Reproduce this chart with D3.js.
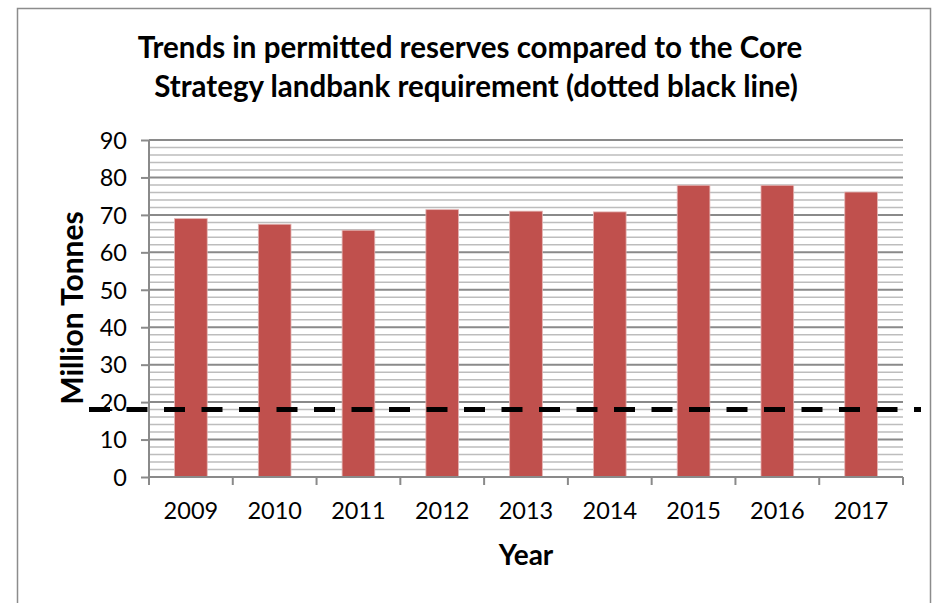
<!DOCTYPE html>
<html><head><meta charset="utf-8">
<script src="https://cdn.jsdelivr.net/npm/d3@7/dist/d3.min.js"></script>
<style>html,body{margin:0;padding:0;background:#fff;}svg{display:block;}</style>
</head><body>
<svg id="c" width="932" height="603"></svg>
<script>
const years = ["2009","2010","2011","2012","2013","2014","2015","2016","2017"];
const reserves = [69.0, 67.5, 65.9, 71.4, 71.0, 70.8, 77.9, 77.9, 76.1];
const requirement = 18;
const yTicks = [0,10,20,30,40,50,60,70,80,90];
const titleLines = ["Trends in permitted reserves compared to the Core","Strategy landbank requirement (dotted black line)"];
const xTitle = "Year";
const yTitle = "Million Tonnes";

const svg = d3.select("#c");
const font = "Lato, 'Open Sans', sans-serif";
// chart frame
svg.append("rect").attr("x",17.5).attr("y",8.5).attr("width",913).attr("height",610)
  .attr("fill","#fff").attr("stroke","#8c8c8c").attr("stroke-width",1.5);

const m = {l:149, r:903, t:140, b:477};
const x = d3.scaleBand().domain(years).range([m.l, m.r]).paddingInner(0.61).paddingOuter(0.305);
const xb = d3.scaleBand().domain(years).range([m.l, m.r]);
const y = d3.scaleLinear().domain([0,90]).range([m.b, m.t]);

// minor gridlines
const minor = d3.range(2, 90, 2).filter(v => v % 10 !== 0);
svg.append("g").selectAll("line").data(minor).join("line")
  .attr("x1", m.l).attr("x2", m.r).attr("y1", d=>y(d)).attr("y2", d=>y(d))
  .attr("stroke","#bdbdbd").attr("stroke-width",1.5);
// major gridlines
svg.append("g").selectAll("line").data(yTicks.filter(v=>v>0)).join("line")
  .attr("x1", m.l).attr("x2", m.r).attr("y1", d=>y(d)).attr("y2", d=>y(d))
  .attr("stroke","#8a8a8a").attr("stroke-width",2);

// bars
svg.append("g").selectAll("rect").data(reserves).join("rect")
  .attr("x",(d,i)=>x(years[i])).attr("width",x.bandwidth())
  .attr("y",d=>y(d)).attr("height",d=>y(0)-y(d))
  .attr("fill","#C0504D").attr("stroke","#e3b4b3").attr("stroke-width",0.8);

// y axis
const yAxis = d3.axisLeft(y).tickValues(yTicks).tickSize(8).tickPadding(14);
const ya = svg.append("g").attr("transform",`translate(${m.l},0)`).call(yAxis);
ya.select(".domain").attr("stroke","#8a8a8a").attr("stroke-width",2).attr("d",`M0,${m.b}V${m.t}`);
ya.selectAll(".tick line").attr("stroke","#8a8a8a").attr("stroke-width",2);
ya.selectAll(".tick text").attr("font-family",font).attr("font-size",23.5).attr("fill","#000").attr("dy","0.35em");

// x axis
const xAxis = d3.axisBottom(x).tickSize(0).tickPadding(25);
const xa = svg.append("g").attr("transform",`translate(0,${m.b})`).call(xAxis);
xa.select(".domain").attr("stroke","#8a8a8a").attr("stroke-width",2).attr("d",`M${m.l},0H${m.r}`);
xa.selectAll(".tick text").attr("font-family",font).attr("font-size",23.5).attr("fill","#000");
// category boundary ticks
svg.append("g").selectAll("line").data(years.concat(["end"])).join("line")
  .attr("x1",d=> d==="end"? m.r : xb(d)).attr("x2",d=> d==="end"? m.r : xb(d))
  .attr("y1",m.b).attr("y2",m.b+8).attr("stroke","#8a8a8a").attr("stroke-width",2);

// titles
svg.append("text").attr("font-family",font).attr("font-weight","bold").attr("font-size",29.5)
  .attr("text-anchor","middle").selectAll("tspan").data(titleLines).join("tspan")
  .attr("x",(d,i)=>i===0?470:476).attr("y",(d,i)=>58+i*39).text(d=>d);
svg.append("text").attr("font-family",font).attr("font-weight","bold").attr("font-size",28)
  .attr("text-anchor","middle").attr("x",526).attr("y",565).text(xTitle);
svg.append("text").attr("font-family",font).attr("font-weight","bold").attr("font-size",30)
  .attr("text-anchor","middle").attr("transform","translate(83,308) rotate(-90)").text(yTitle);

// requirement dashed line
svg.append("line").attr("x1", m.l-60).attr("x2", m.r+18)
  .attr("y1", y(requirement)).attr("y2", y(requirement))
  .attr("stroke","#000").attr("stroke-width",5).attr("stroke-dasharray","21,16.5");
</script>
</body></html>
